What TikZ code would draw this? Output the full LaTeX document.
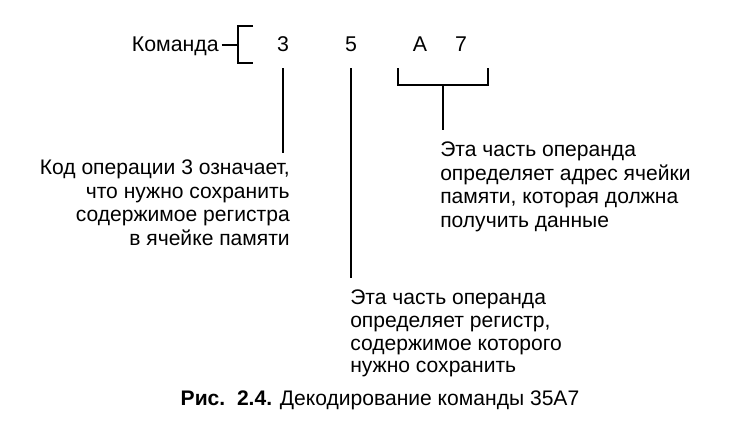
\documentclass[tikz,border=0pt]{standalone}
\usepackage{fontspec}
\setmainfont{Liberation Sans}
\usetikzlibrary{positioning}

\begin{document}
\begin{tikzpicture}[
    x=0.75pt, y=-0.75pt,
    word/.style={font=\fontsize{16}{19}\selectfont, inner sep=0pt, anchor=base},
    note/.style={font=\fontsize{15.8}{17.6}\selectfont, inner sep=0pt},
    lead/.style={line width=1.1pt},
    caption/.style={font=\fontsize{15.8}{19}\selectfont, inner sep=0pt, anchor=base}
]
\useasboundingbox (0,0) rectangle (746,432);
% instruction word
\node[word, anchor=base east] (cmd) at (219,51) {Команда};
\node[word] (d3) at (283,51) {3};
\node[word] (d5) at (351,51) {5};
\node[word] (dA) at (420,51) {A};
\node[word] (d7) at (461,51) {7};
\coordinate (bk) at (238,45);
\draw[lead] ([xshift=2pt]cmd.east |- bk) -- (bk);
\draw[lead] (253,26) -- (238,26) -- (238,63) -- (253,63);
% explanations
\node[note, align=right, anchor=north east] (n3) at (290,160) {Код операции 3 означает,\\что нужно сохранить\\содержимое регистра\\в ячейке памяти};
\node[note, align=left, anchor=north west, font=\fontsize{15.8}{17}\selectfont] (n5) at (350,290) {Эта часть операнда\\определяет регистр,\\содержимое которого\\нужно сохранить};
\node[note, align=left, anchor=north west] (nA) at (440,142) {Эта часть операнда\\определяет адрес ячейки\\памяти, которая должна\\получить данные};
% leaders
\coordinate (aL) at (398,68);
\coordinate (aR) at (488,68);
\coordinate (aM) at (443,85);
\draw[lead, shorten >=5pt] (d3.south |- aL) -- (d3.south |- n3.north);
\draw[lead, shorten >=9pt] (d5.south |- aL) -- (d5.south |- n5.north);
\draw[lead] (aL) -- (aL |- aM) -- (aR |- aM) -- (aR);
\draw[lead, shorten >=9pt] (aM) -- (aM |- nA.north);
% caption
\node[caption] (cap) at (380,405) {\textbf{Рис.~~2.4.} Декодирование команды 35А7};
\end{tikzpicture}
\end{document}
